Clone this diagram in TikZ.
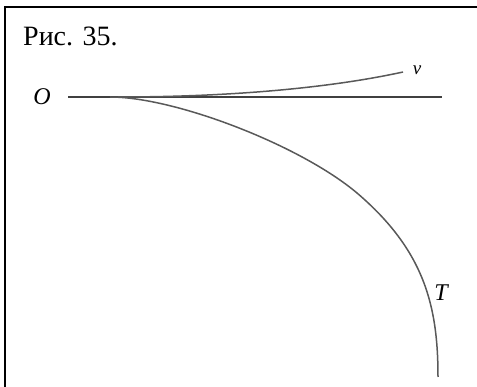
\documentclass[tikz,border=0pt]{standalone}
\usepackage{fontspec}
\setmainfont{Liberation Serif}
\usetikzlibrary{positioning}

\begin{document}
\begin{tikzpicture}[x=1pt, y=-1pt,
  frame/.style = {draw=black, line width=2pt},
  axis/.style  = {draw=black!75, line width=1.6pt},
  traj/.style  = {draw=black!65, line width=1.5pt},
  lbl/.style   = {inner sep=0pt, font=\fontsize{24}{28}\selectfont\itshape}]

\useasboundingbox (0,0) rectangle (477,387);

% --- frame ------------------------------------------------------------
\draw[frame] (4.5,387) -- (4.5,7.5) -- (477,7.5);

% --- caption ----------------------------------------------------------
\node[anchor=base west, inner sep=0pt,
      font=\fontsize{28}{32}\selectfont] (cap) at (23,46) {Рис. 35.};

% --- labels -----------------------------------------------------------
\node[lbl] (O) at (42,97)  {O};
\node[lbl, font=\fontsize{19}{22}\selectfont\itshape] (v) at (417,70) {v};
\node[lbl] (T) at (441,293) {T};

% --- line and curves --------------------------------------------------
\coordinate (a) at (68,97);
\coordinate (b) at (442,97);
\coordinate (s) at (110,97);
\coordinate (m) at (357,193);
\coordinate (e) at (438,377);
\coordinate (vs) at (118,97);
\coordinate (ve) at (403,72);
\draw[axis] (a) -- (b);

\draw[traj] (vs) .. controls (230,97) and (330,88) .. (ve);
\draw[traj] (s) .. controls (175,97) and (300,145) .. (m)
                .. controls (425,251) and (438,307) .. (e);
\end{tikzpicture}
\end{document}
